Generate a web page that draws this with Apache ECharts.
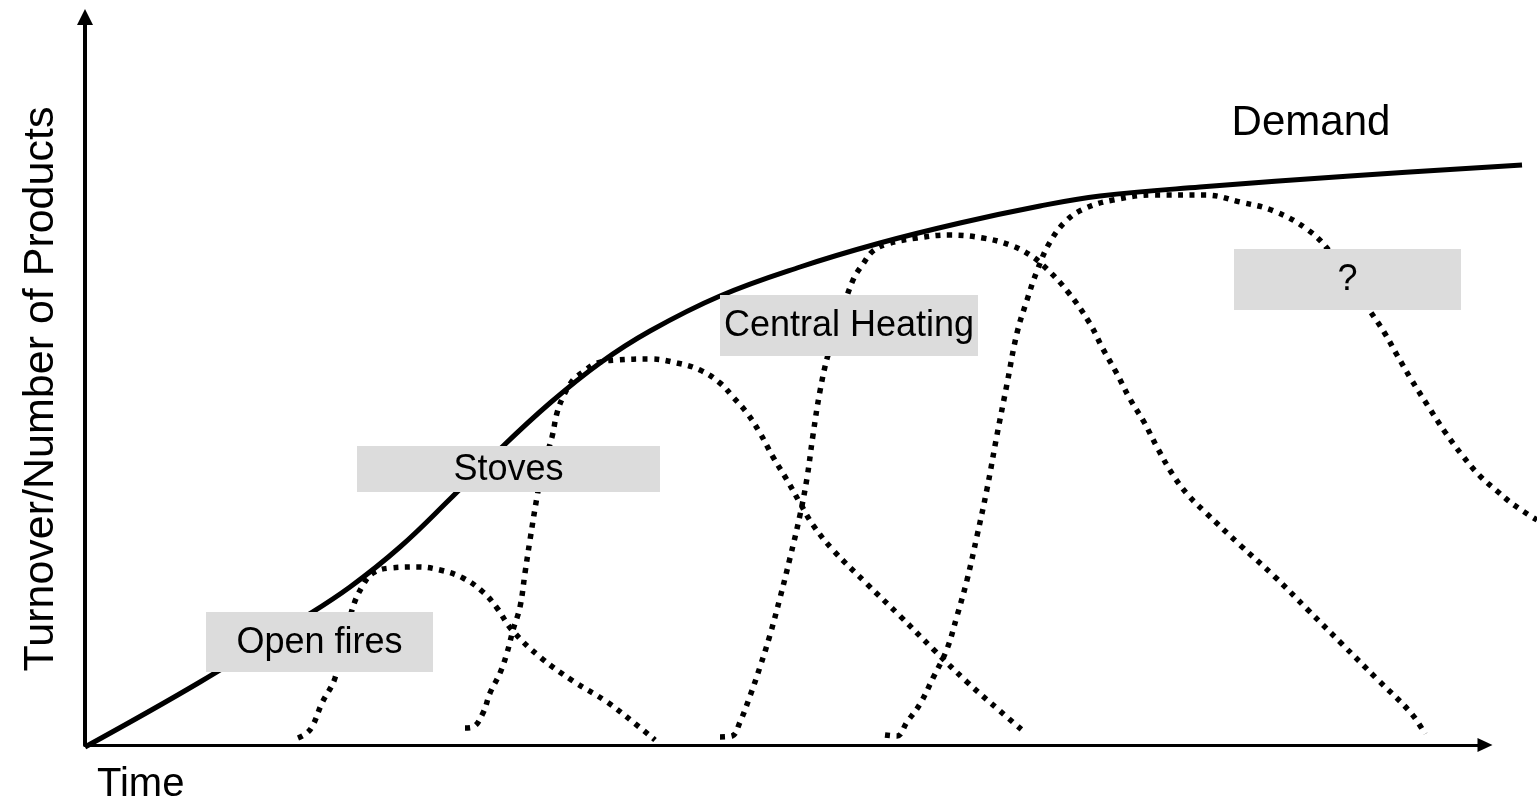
<!DOCTYPE html>
<html>
<head>
<meta charset="utf-8">
<title>Product life cycles and demand</title>
<script src="https://cdn.jsdelivr.net/npm/echarts@6/dist/echarts.min.js"></script>
<style>
  html, body { margin: 0; padding: 0; background: #fff; }
  #main { width: 1537px; height: 805px; }
</style>
</head>
<body>
<div id="main"></div>
<script>
var chartDom = document.getElementById('main');
var myChart = echarts.init(chartDom);

// values, [time, turnover] in axis units
const demand = [
  [0, 0], [115, 65], [215, 127], [265, 160], [315, 200], [365, 248], [415, 298],
  [465, 344], [515, 384], [565, 416], [635, 451], [715, 480], [795, 504], [875, 524],
  [955, 541], [1015, 551], [1115, 560], [1265, 571], [1437, 582]
];
const openFires = [
  [213, 9], [222, 14], [228, 22], [237, 44], [250, 69], [267, 137], [278, 162],
  [288, 174], [305, 179], [332, 180], [355, 177], [378, 169], [398, 155], [412, 139],
  [427, 117], [455, 90], [488, 66], [522, 45], [548, 25], [570, 7]
];
const stoves = [
  [380, 19], [388, 20], [398, 34], [405, 54], [415, 74], [422, 94], [428, 117],
  [435, 140], [440, 174], [445, 207], [452, 250], [458, 280], [467, 310], [472, 334],
  [478, 350], [488, 367], [498, 375], [512, 384], [532, 387], [565, 388], [592, 384],
  [615, 377], [635, 364], [648, 350], [662, 334], [675, 314], [688, 290], [702, 267],
  [715, 244], [728, 222], [748, 197], [782, 163], [815, 131], [848, 98], [882, 65],
  [915, 36], [937, 17]
];
const centralHeating = [
  [635, 10], [647, 11], [655, 25], [665, 51], [675, 80], [685, 112], [695, 149],
  [705, 189], [715, 232], [722, 269], [728, 312], [735, 356], [743, 392], [755, 429],
  [768, 467], [778, 483], [788, 496], [802, 503], [832, 509], [865, 512], [898, 509],
  [925, 502], [945, 492], [962, 478], [983, 455], [1004, 425], [1018, 398], [1031, 375],
  [1045, 348], [1059, 325], [1073, 298], [1088, 272], [1103, 252], [1120, 235],
  [1155, 202], [1189, 171], [1223, 137], [1257, 103], [1292, 68], [1326, 34], [1340, 13]
];
const nextProduct = [
  [800, 12], [812, 11], [822, 25], [835, 43], [848, 69], [862, 98], [872, 131],
  [882, 167], [892, 211], [902, 258], [912, 312], [922, 363], [932, 414], [942, 447],
  [952, 476], [965, 505], [982, 527], [1001, 539], [1028, 547], [1069, 552], [1120, 552],
  [1155, 545], [1189, 536], [1223, 517], [1245, 495], [1285, 436], [1299, 415],
  [1312, 392], [1326, 368], [1343, 341], [1360, 315], [1377, 292], [1394, 272],
  [1412, 256], [1429, 242], [1452, 227]
];

// label boxes: [x0, y0, x1, y1] in axis units, and their texts
const boxNames = ['Open fires', 'Stoves', 'Central Heating', '?'];
const boxRanges = [
  [121, 75, 348, 135],
  [272, 255, 575, 301],
  [635, 391, 893, 452],
  [1149, 437, 1376, 498]
];
const demandLabel = [1226, 624];

const font = "'Liberation Sans', Arial, sans-serif";

function dotted(name, data) {
  return {
    name: name,
    type: 'line',
    xAxisIndex: 1,
    yAxisIndex: 1,
    data: data,
    smooth: 0.4,
    symbol: 'none',
    clip: false,
    lineStyle: { color: '#000', width: 5.5, type: [5, 6.5], cap: 'butt' },
    z: 2
  };
}

var hiddenAxis = {
  show: false,
  axisLine: { show: false },
  axisTick: { show: false },
  axisLabel: { show: false },
  splitLine: { show: false }
};

var option = {
  animation: false,
  // grid 0 carries the drawn axes, grid 1 (same scale, wider) carries the curves
  grid: [
    { left: 85, top: 17, width: 1400, height: 730, containLabel: false },
    { left: 85, top: 17, width: 1452, height: 730, containLabel: false }
  ],
  xAxis: [
    {
      type: 'value',
      gridIndex: 0,
      min: 0,
      max: 1400,
      name: 'Time',
      nameLocation: 'start',
      nameGap: -12,
      nameTextStyle: {
        fontFamily: font, fontSize: 40, color: '#000',
        align: 'left', verticalAlign: 'top', padding: [20, 0, 0, 0]
      },
      axisLine: {
        show: true,
        symbol: ['none', 'triangle'],
        symbolSize: [14, 15],
        lineStyle: { color: '#000', width: 3 }
      },
      axisTick: { show: false },
      axisLabel: { show: false },
      splitLine: { show: false }
    },
    Object.assign({ type: 'value', gridIndex: 1, min: 0, max: 1452 }, hiddenAxis)
  ],
  yAxis: [
    {
      type: 'value',
      gridIndex: 0,
      min: 0,
      max: 730,
      name: 'Turnover/Number of Products',
      nameLocation: 'middle',
      nameGap: 22,
      nameTextStyle: {
        fontFamily: font, fontSize: 43, color: '#000', padding: [0, 16, 0, 0]
      },
      axisLine: {
        show: true,
        symbol: ['none', 'triangle'],
        symbolSize: [16, 16],
        lineStyle: { color: '#000', width: 4 }
      },
      axisTick: { show: false },
      axisLabel: { show: false },
      splitLine: { show: false }
    },
    Object.assign({ type: 'value', gridIndex: 1, min: 0, max: 730 }, hiddenAxis)
  ],
  series: [
    {
      name: 'Demand',
      type: 'line',
      xAxisIndex: 1,
      yAxisIndex: 1,
      data: demand,
      smooth: 0.4,
      symbol: 'none',
      clip: false,
      lineStyle: { color: '#000', width: 5 },
      z: 3,
      markPoint: {
        symbol: 'circle',
        symbolSize: 0,
        label: {
          show: true, position: 'inside', formatter: 'Demand',
          fontFamily: font, fontSize: 42, color: '#000'
        },
        data: [{ coord: demandLabel }]
      }
    },
    dotted('Open fires', openFires),
    dotted('Stoves', stoves),
    dotted('Central Heating', centralHeating),
    dotted('?', nextProduct),
    {
      name: 'labels',
      type: 'custom',
      xAxisIndex: 1,
      yAxisIndex: 1,
      clip: false,
      z: 10,
      data: boxRanges.map(function (r, i) { return r.concat([i]); }),
      renderItem: function (params, api) {
        var p0 = api.coord([api.value(0), api.value(3)]);
        var p1 = api.coord([api.value(2), api.value(1)]);
        var name = boxNames[api.value(4)];
        return {
          type: 'group',
          children: [
            {
              type: 'rect',
              shape: { x: p0[0], y: p0[1], width: p1[0] - p0[0], height: p1[1] - p0[1] },
              style: { fill: '#dcdcdc' }
            },
            {
              type: 'text',
              x: (p0[0] + p1[0]) / 2,
              y: (p0[1] + p1[1]) / 2 + 1,
              style: {
                text: name, fill: '#000', font: '36px ' + font,
                align: 'center', verticalAlign: 'middle'
              }
            }
          ]
        };
      }
    }
  ]
};

option && myChart.setOption(option);

window.addEventListener('resize', function () {
  myChart.resize();
});
</script>
</body>
</html>
